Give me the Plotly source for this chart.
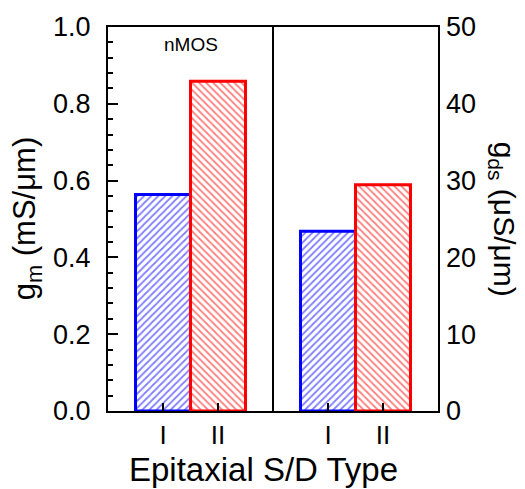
import plotly.graph_objects as go

types = ["I", "II"]
gm_values = [0.564, 0.859]      # mS/um, left axis
gds_values = [23.4, 29.45]      # uS/um, right axis
colors = ["#0000ff", "#ff0000"]
hatches = ["/", "\\"]
gm_x = [1, 2]
gds_x = [4, 5]

font = "Liberation Sans, Arial, sans-serif"

fig = go.Figure()
for i in range(2):
    for xs, vals, ax in ((gm_x, gm_values, "y"), (gds_x, gds_values, "y2")):
        fig.add_trace(go.Bar(
            x=[xs[i]], y=[vals[i]], width=1, yaxis=ax,
            marker=dict(color="white", line=dict(color=colors[i], width=3),
                        pattern=dict(shape=hatches[i], fgcolor=colors[i], bgcolor="white",
                                     size=5, solidity=0.35)),
            showlegend=False))

fig.update_layout(
    width=525, height=489,
    margin=dict(l=108, r=87, t=20, b=78),
    paper_bgcolor="white", plot_bgcolor="white",
    font=dict(family=font, color="black", size=27),
    barmode="overlay",
    xaxis=dict(range=[0, 6], tickvals=gm_x + gds_x, ticktext=types + types,
               ticks="inside", ticklen=8, tickwidth=2, tickcolor="black",
               showline=True, linecolor="black", linewidth=2, mirror=True,
               showgrid=False, zeroline=False, tickfont=dict(size=26)),
    yaxis=dict(range=[0, 1.0], dtick=0.2, tickformat=".1f",
               ticks="inside", ticklen=10, tickwidth=2, tickcolor="black",
               minor=dict(dtick=0.04, ticks="inside", ticklen=5, tickwidth=2, tickcolor="black"),
               showline=True, linecolor="black", linewidth=2, mirror=True,
               showgrid=False, zeroline=False, tickfont=dict(size=27),
               ticklabelstandoff=10),
    yaxis2=dict(range=[0, 50], dtick=10, overlaying="y", side="right",
                ticks="", showline=False, showgrid=False, zeroline=False,
                tickfont=dict(size=27), ticklabelstandoff=7),
)

fig.add_shape(type="line", xref="x", yref="paper", x0=3, x1=3, y0=0, y1=1,
              line=dict(color="black", width=2))

fig.add_annotation(text="Epitaxial S/D Type", xref="paper", yref="paper",
                   x=0.471, y=-0.152, showarrow=False, borderpad=0,
                   font=dict(size=33), xanchor="center", yanchor="middle")
fig.add_annotation(text="g<sub>m</sub> (mS/μm)", xref="paper", yref="paper",
                   x=-0.245, y=0.5, textangle=-90, showarrow=False,
                   font=dict(size=31), xanchor="center", yanchor="middle")
fig.add_annotation(text="g<sub>ds</sub> (μS/μm)", xref="paper", yref="paper",
                   x=1.198, y=0.5, textangle=90, showarrow=False,
                   font=dict(size=30), xanchor="center", yanchor="middle")
fig.add_annotation(text="nMOS", xref="x", yref="paper", x=1.5, y=0.955,
                   showarrow=False, font=dict(size=19), xanchor="center", yanchor="middle")

fig.write_html("out.html", config={"displayModeBar": False},
               post_script="document.body.style.margin='0';document.body.style.overflow='hidden';")
